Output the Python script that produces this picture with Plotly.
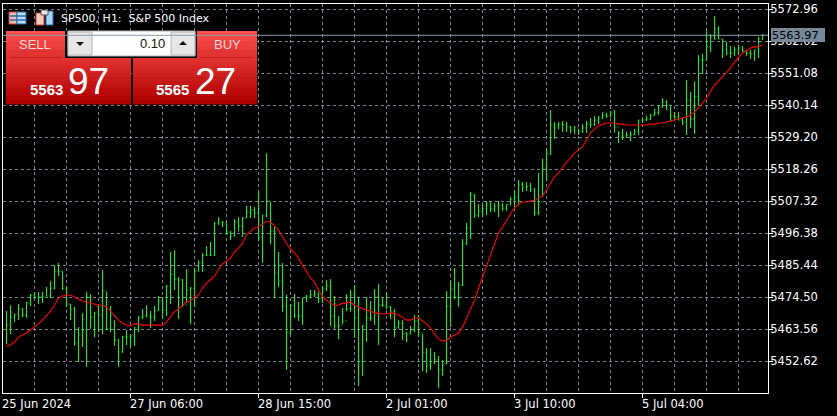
import plotly.graph_objects as go

highs = [5469.7,5471.7,5468.7,5472.1,5470.7,5472.8,5475.5,5476.2,5476.2,5476.2,5477.9,5479.9,5485.4,5486.1,5483.3,5478.2,5472.1,5471.1,5464.2,5469.0,
5476.2,5475.5,5469.4,5471.7,5483.7,5476.2,5471.4,5466.6,5460.1,5461.2,5463.2,5461.8,5464.2,5468.0,5470.4,5471.7,5469.7,5471.4,5474.8,5474.5,
5478.6,5489.9,5490.5,5481.3,5480.6,5484.0,5477.9,5484.4,5487.1,5489.5,5491.9,5493.3,5500.1,5501.8,5500.4,5499.8,5497.0,5501.1,5501.8,5501.8,
5505.6,5505.6,5505.2,5510.7,5502.5,5523.7,5507.0,5498.4,5489.9,5486.1,5475.2,5472.1,5475.5,5472.8,5474.1,5475.2,5476.9,5476.9,5476.2,5478.2,
5480.3,5480.6,5474.8,5468.0,5470.7,5475.5,5476.9,5478.6,5474.5,5464.9,5474.5,5473.1,5477.2,5478.9,5474.5,5475.8,5471.4,5470.4,5466.6,5466.6,
5462.5,5464.6,5468.3,5468.3,5461.8,5457.1,5457.1,5455.7,5454.3,5453.0,5476.5,5479.9,5484.4,5479.6,5494.3,5499.8,5510.4,5509.7,5506.3,5506.3,
5507.3,5507.0,5506.6,5507.3,5506.6,5506.3,5508.7,5511.1,5514.5,5513.8,5513.8,5513.5,5511.8,5516.9,5521.7,5525.1,5538.4,5534.3,5534.3,5534.7,
5534.3,5533.0,5533.0,5531.9,5533.6,5534.7,5535.7,5536.4,5536.4,5537.7,5537.4,5538.1,5538.4,5531.2,5531.9,5530.9,5531.2,5531.9,5535.0,5536.0,
5536.4,5537.1,5538.8,5540.1,5542.5,5541.8,5539.8,5537.7,5537.7,5535.7,5548.7,5544.6,5548.3,5557.2,5557.6,5565.4,5564.4,5570.6,5567.1,5562.7,
5561.7,5560.3,5560.0,5560.7,5560.3,5559.0,5559.0,5559.0,5563.4,5564.4]
lows = [5458.4,5461.8,5465.9,5466.6,5467.6,5467.3,5471.4,5473.8,5472.1,5472.4,5474.8,5474.1,5477.2,5481.6,5476.9,5471.1,5466.6,5457.8,5452.3,5457.4,
5450.6,5463.6,5460.8,5462.5,5461.8,5463.2,5462.5,5457.8,5450.6,5455.4,5458.1,5457.4,5457.8,5462.5,5467.0,5467.6,5463.9,5466.3,5469.7,5467.0,
5468.0,5472.1,5476.9,5467.0,5471.1,5472.4,5465.3,5471.1,5483.3,5483.0,5488.5,5488.5,5488.5,5499.1,5498.4,5495.7,5494.0,5495.3,5497.0,5495.0,
5501.5,5501.5,5501.5,5493.6,5486.1,5501.8,5492.6,5474.1,5477.9,5469.4,5449.6,5461.8,5467.3,5466.3,5464.9,5472.8,5474.1,5474.5,5472.4,5472.4,
5476.5,5464.6,5463.6,5460.1,5465.3,5469.7,5469.4,5460.5,5444.1,5447.5,5459.1,5466.3,5464.9,5458.1,5471.1,5470.4,5467.0,5460.8,5463.6,5459.8,
5459.1,5461.8,5462.5,5460.8,5449.2,5448.5,5449.6,5451.6,5443.4,5447.5,5451.6,5464.2,5473.8,5471.1,5478.2,5492.3,5494.3,5501.5,5501.8,5501.8,
5502.5,5503.5,5503.5,5501.8,5503.9,5503.9,5505.9,5504.6,5505.9,5510.4,5510.7,5510.4,5502.2,5502.5,5508.7,5514.2,5523.0,5528.5,5531.9,5530.9,
5530.9,5530.6,5530.2,5529.9,5530.6,5530.6,5532.3,5533.0,5533.6,5535.3,5535.7,5536.0,5530.6,5527.1,5528.2,5528.9,5527.8,5529.9,5529.9,5534.0,
5534.7,5535.0,5536.4,5536.7,5539.1,5538.4,5534.7,5535.0,5535.0,5533.3,5529.9,5532.3,5530.2,5539.8,5550.7,5555.5,5558.3,5562.4,5562.7,5556.2,
5557.2,5556.2,5556.9,5557.2,5558.3,5556.9,5555.9,5555.2,5556.2,5562.4]
closes = [5464.9,5467.6,5468.7,5470.4,5468.3,5472.4,5475.2,5474.5,5474.5,5474.5,5474.8,5477.5,5483.3,5483.3,5477.2,5472.1,5470.4,5458.8,5461.5,5463.2,
5474.5,5467.6,5469.0,5468.3,5476.5,5463.6,5468.3,5459.8,5455.7,5460.8,5460.8,5461.2,5464.2,5467.3,5468.0,5468.0,5467.6,5470.0,5473.1,5470.0,
5478.2,5482.3,5480.6,5480.3,5471.7,5476.9,5477.5,5483.3,5486.1,5488.8,5488.8,5488.8,5499.8,5500.1,5500.1,5496.7,5495.3,5500.1,5498.7,5501.5,
5503.5,5504.2,5503.2,5495.0,5502.5,5507.3,5497.0,5482.7,5479.9,5471.4,5462.5,5471.7,5468.0,5468.0,5474.1,5474.8,5475.2,5475.5,5474.1,5477.5,
5478.2,5468.0,5464.6,5464.9,5466.3,5470.4,5475.2,5467.3,5452.3,5464.6,5467.3,5467.3,5474.5,5471.7,5471.7,5471.1,5469.4,5464.2,5465.6,5461.8,
5461.8,5463.2,5466.3,5462.2,5455.4,5451.3,5452.3,5453.0,5449.6,5451.6,5471.4,5477.2,5474.5,5478.6,5492.6,5498.1,5509.4,5502.5,5503.9,5504.6,
5506.3,5504.6,5505.6,5505.9,5504.9,5505.9,5508.0,5508.7,5512.8,5512.1,5512.4,5511.1,5503.2,5507.0,5518.6,5523.4,5533.3,5532.6,5533.6,5533.3,
5532.6,5531.6,5532.3,5531.2,5532.3,5533.6,5533.6,5535.0,5535.7,5536.7,5536.4,5537.7,5532.6,5530.6,5529.5,5529.9,5529.9,5531.2,5535.0,5535.0,
5535.3,5536.7,5537.4,5539.8,5541.2,5540.1,5536.4,5536.0,5535.0,5534.3,5541.8,5535.3,5542.9,5555.5,5555.5,5560.0,5563.7,5566.1,5562.7,5559.0,
5557.9,5557.9,5559.0,5559.6,5558.6,5557.9,5557.6,5559.0,5562.7,5563.97]
opens = [5460.5,5464.9,5467.6,5468.7,5470.4,5468.3,5472.4,5475.2,5474.5,5474.5,5474.5,5474.8,5477.5,5483.3,5483.3,5477.2,5472.1,5470.4,5458.8,5461.5,
5463.2,5474.5,5467.6,5469.0,5468.3,5476.5,5463.6,5468.3,5459.8,5455.7,5460.8,5460.8,5461.2,5464.2,5467.3,5468.0,5468.0,5467.6,5470.0,5473.1,
5470.0,5478.2,5482.3,5480.6,5480.3,5471.7,5476.9,5477.5,5483.3,5486.1,5488.8,5488.8,5488.8,5499.8,5500.1,5500.1,5496.7,5495.3,5500.1,5498.7,
5501.5,5503.5,5504.2,5503.2,5495.0,5502.5,5507.3,5497.0,5482.7,5479.9,5471.4,5462.5,5471.7,5468.0,5468.0,5474.1,5474.8,5475.2,5475.5,5474.1,
5477.5,5478.2,5468.0,5464.6,5464.9,5466.3,5470.4,5475.2,5467.3,5452.3,5464.6,5467.3,5467.3,5474.5,5471.7,5471.7,5471.1,5469.4,5464.2,5465.6,
5461.8,5461.8,5463.2,5466.3,5462.2,5455.4,5451.3,5452.3,5453.0,5449.6,5451.6,5471.4,5477.2,5474.5,5478.6,5492.6,5498.1,5509.4,5502.5,5503.9,
5504.6,5506.3,5504.6,5505.6,5505.9,5504.9,5505.9,5508.0,5508.7,5512.8,5512.1,5512.4,5511.1,5503.2,5507.0,5518.6,5523.4,5533.3,5532.6,5533.6,
5533.3,5532.6,5531.6,5532.3,5531.2,5532.3,5533.6,5533.6,5535.0,5535.7,5536.7,5536.4,5537.7,5532.6,5530.6,5529.5,5529.9,5529.9,5531.2,5535.0,
5535.0,5535.3,5536.7,5537.4,5539.8,5541.2,5540.1,5536.4,5536.0,5535.0,5534.3,5541.8,5535.3,5542.9,5555.5,5555.5,5560.0,5563.7,5566.1,5562.7,
5559.0,5557.9,5557.9,5559.0,5559.6,5558.6,5557.9,5557.6,5559.0,5562.7]
ma = [5457.8,5458.1,5459.1,5460.8,5461.5,5462.2,5463.2,5464.2,5465.3,5466.6,5468.0,5469.7,5471.7,5474.1,5474.8,5475.2,5475.2,5474.5,5473.8,5473.1,
5472.8,5472.4,5472.1,5471.7,5471.7,5471.1,5469.7,5468.0,5466.6,5465.6,5464.9,5464.6,5465.3,5465.3,5464.9,5464.9,5464.9,5464.9,5464.9,5464.9,
5465.9,5467.6,5469.4,5470.4,5471.7,5472.8,5473.1,5474.5,5475.2,5477.5,5479.2,5480.3,5481.6,5484.0,5485.8,5486.8,5487.8,5489.9,5491.2,5492.9,
5495.7,5497.0,5498.1,5498.4,5499.4,5500.4,5500.1,5498.7,5497.4,5495.0,5492.9,5490.9,5489.5,5487.8,5485.4,5483.0,5481.0,5479.6,5476.9,5474.8,
5473.4,5472.4,5471.7,5471.7,5472.4,5472.4,5472.8,5471.7,5471.1,5470.4,5470.0,5469.7,5469.0,5469.0,5468.7,5468.7,5469.0,5469.0,5468.3,5467.6,
5466.6,5466.6,5467.3,5467.3,5466.3,5465.3,5463.9,5461.8,5460.1,5459.5,5459.5,5460.8,5461.5,5462.2,5464.2,5467.3,5470.4,5473.4,5477.5,5481.3,
5485.4,5489.5,5492.9,5496.4,5498.4,5500.8,5502.9,5504.9,5506.3,5507.0,5507.0,5507.3,5507.6,5508.3,5509.0,5511.1,5513.5,5515.5,5516.9,5518.9,
5520.6,5522.0,5523.7,5524.8,5525.8,5528.2,5530.6,5531.9,5533.0,5533.6,5534.0,5534.0,5534.0,5533.6,5533.6,5533.3,5533.3,5533.3,5533.3,5533.3,
5533.3,5533.6,5533.6,5534.0,5534.0,5534.3,5534.7,5535.0,5535.3,5535.7,5536.0,5536.7,5537.7,5539.1,5540.8,5542.5,5544.6,5547.0,5548.3,5549.7,
5551.1,5552.8,5554.8,5556.5,5557.9,5558.6,5559.6,5560.0,5560.0,5560.7]
bar_index = list(range(1, len(highs) + 1))

price_ticks = [5572.96,5562.02,5551.08,5540.14,5529.20,5518.26,5507.32,5496.38,5485.44,5474.50,5463.56,5452.62]
time_tick_bars = [0, 32, 64, 96, 128, 160]
time_tick_labels = ["25 Jun 2024", "27 Jun 06:00", "28 Jun 15:00", "2 Jul 01:00", "3 Jul 10:00", "5 Jul 04:00"]
last_price = 5563.97
title_text = "SP500, H1:  S&P 500 Index"
sell_big, sell_small = "97", "5563"
buy_big, buy_small = "27", "5565"
volume = "0.10"

W, H = 837, 416
L, R, T, B = 3, 69, 4, 23
PW, PH = W - L - R, H - T - B
X0, X1 = 0.125, 191.375
FONT = "DejaVu Sans"
GRID = "#778899"

def px(x): return (x - L) / PW
def py(y): return 1 - (y - T) / PH

shapes = []
annots = []

def rect(x0, y0, x1, y1, fill, line=None):
    shapes.append(dict(type="rect", xref="paper", yref="paper", x0=px(x0), x1=px(x1), y0=py(y0), y1=py(y1),
                       fillcolor=fill, line=dict(width=1 if line else 0, color=line or fill)))

def mix(a, b, t):
    return "rgb(%d,%d,%d)" % tuple(round(a[i] + (b[i] - a[i]) * t) for i in range(3))

def grad(x0, y0, x1, y1, c0, c1, n=12):
    for i in range(n):
        rect(x0, y0 + (y1 - y0) * i / n, x1, y0 + (y1 - y0) * (i + 1) / n + 0.5, mix(c0, c1, i / (n - 1)))

def tri(cx, cy, up):
    d = -3 if up else 3
    p = "M %f %f L %f %f L %f %f Z" % (px(cx - 4), py(cy - d / 3), px(cx + 4), py(cy - d / 3), px(cx), py(cy + d))
    shapes.append(dict(type="path", xref="paper", yref="paper", path=p, fillcolor="#111111", line=dict(width=0)))

def text(x, y, s, size, color, anchor="left", family=FONT, bold=False):
    if bold:
        s = "<b>%s</b>" % s
    annots.append(dict(xref="paper", yref="paper", x=px(x), y=py(y), text=s, showarrow=False, xanchor=anchor,
                       yanchor="middle", font=dict(size=size, color=color, family=family), borderpad=0, borderwidth=0))

# icons
rect(9, 12, 17, 24, "#f2b8b0", "#d04030")
rect(17, 12, 26, 24, "#bcdcf5", "#2070b0")
for yy in (16, 20):
    rect(10, yy, 26, yy, "#2070b0", "#2070b0")
rect(36, 13, 44, 25, "#f5c8c0", "#d04030")
rect(46, 11, 53, 25, "#a8d4f5", "#2070b0")
rect(41, 10, 48, 15, "#e8e8e8", "#555555")

# trade panel
rect(6, 31, 257, 58, "#000000")
grad(6, 31, 65, 58, (255, 80, 80), (224, 48, 48))
rect(10, 57, 62, 57.5, "#a01010")
grad(197, 31, 257, 58, (255, 80, 80), (224, 48, 48))
rect(201, 57, 253, 57.5, "#a01010")
grad(6, 58, 131, 104, (224, 48, 48), (176, 0, 0))
grad(133, 58, 257, 104, (224, 48, 48), (176, 0, 0))
rect(68, 31, 195, 56, "#ffffff", "#b4b4b4")
rect(68, 32, 92, 55, "#e6e6e6", "#b4b4b4")
rect(171, 32, 195, 55, "#e6e6e6", "#b4b4b4")
tri(80, 43, False)
tri(183, 44, True)

# current price line and label
shapes.append(dict(type="line", xref="paper", yref="y", x0=0, x1=1, y0=last_price, y1=last_price,
                   line=dict(color="#8a9aaa", width=1)))
rect(771, 28, 825, 42, GRID)
text(772, 35.5, "%.2f" % last_price, 11.3, "#000000")

text(61, 18.5, title_text, 11, "#ffffff")
text(35, 44.5, "SELL", 13, "#ffd8d8", "center", "Liberation Sans")
text(227, 44.5, "BUY", 13, "#ffd8d8", "center", "Liberation Sans")
text(165, 43.5, volume, 13, "#111111", "right", "Liberation Sans")
text(63, 89, sell_small, 15, "#ffffff", "right", "Liberation Sans", True)
text(68, 81, sell_big, 37, "#ffffff", "left", "Liberation Sans")
text(189, 89, buy_small, 15, "#ffffff", "right", "Liberation Sans", True)
text(195, 81, buy_big, 37, "#ffffff", "left", "Liberation Sans")

# left-aligned time labels
for b, s in zip(time_tick_bars, time_tick_labels):
    annots.append(dict(xref="x", yref="paper", x=max(b, X0), y=py(404), text=s, showarrow=False, xanchor="left", xshift=-3,
                       yanchor="middle", font=dict(size=11.5, color="#ffffff", family=FONT)))

fig = go.Figure()
fig.add_trace(go.Ohlc(x=bar_index, open=opens, high=highs, low=lows, close=closes, tickwidth=0.25,
                      increasing=dict(line=dict(color="#00ff00", width=1)),
                      decreasing=dict(line=dict(color="#00ff00", width=1)), showlegend=False, hoverinfo="skip"))
fig.add_trace(go.Scatter(x=bar_index, y=ma, mode="lines", line=dict(color="#ff0000", width=1.1), showlegend=False, hoverinfo="skip"))

fig.update_layout(
    width=W, height=H, margin=dict(l=L, r=R, t=T, b=B, pad=0), paper_bgcolor="#000000", plot_bgcolor="#000000",
    font=dict(family=FONT, size=11, color="#ffffff"), shapes=shapes, annotations=annots, showlegend=False,
    xaxis=dict(range=[X0, X1], rangeslider=dict(visible=False), tickvals=time_tick_bars, ticktext=[""] * 6,
               ticks="outside", ticklen=4, tickcolor="#ffffff", showgrid=False, zeroline=False,
               showline=True, linecolor="#ffffff", linewidth=1, mirror=True,
               minor=dict(dtick=8, tick0=0, showgrid=True, gridcolor=GRID, griddash="3px,3px", gridwidth=1, ticks="")),
    yaxis=dict(side="right", range=[5441.68, 5574.67], tickvals=price_ticks, ticktext=["%.2f" % v for v in price_ticks],
               ticks="outside", ticklen=4, tickcolor="#ffffff", showgrid=True, gridcolor=GRID, griddash="3px,3px", gridwidth=1,
               zeroline=False, showline=True, linecolor="#ffffff", linewidth=1, mirror=True, ticklabelstandoff=-5,
               tickfont=dict(size=11.5, color="#ffffff", family=FONT)),
)
fig.write_html("out.html", config=dict(displayModeBar=False), post_script="document.body.style.margin='0';")
